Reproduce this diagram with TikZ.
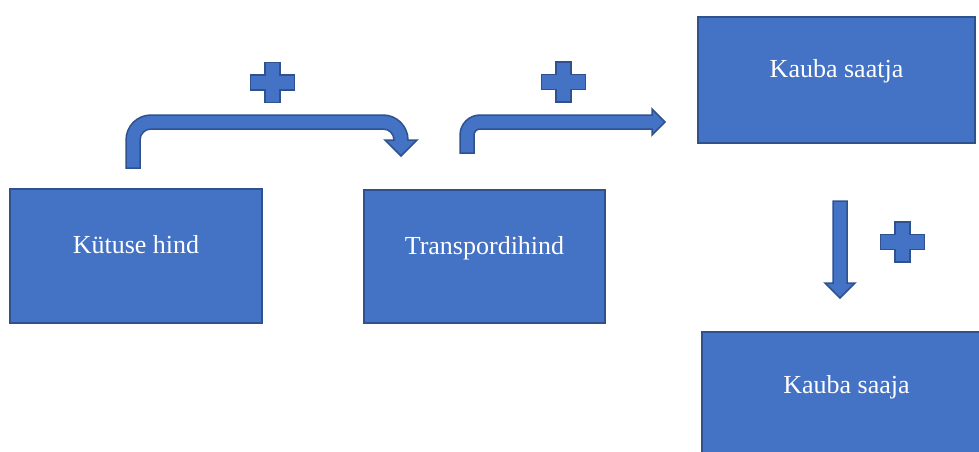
\documentclass[tikz,border=0pt]{standalone}
\usepackage{fontspec}
\setmainfont{Liberation Serif}
\definecolor{ofill}{HTML}{4472C4}
\definecolor{oline}{HTML}{2F528F}
\begin{document}
\begin{tikzpicture}[x=1pt,y=-1pt,
  blockbox/.style={draw=oline, fill=ofill, line width=1.5pt, text=white,
    font=\fontsize{26}{31}\selectfont, inner sep=0pt, text height=18pt, text depth=23pt},
  blockarrow/.style={draw=oline, fill=ofill, line width=1.5pt, line join=miter},
  plussign/.pic={\path[blockarrow] (-7.5,-20) -- (7.5,-20) -- (7.5,-7.5) -- (22,-7.5) -- (22,7.5) -- (7.5,7.5) -- (7.5,20) -- (-7.5,20) -- (-7.5,7.5) -- (-22,7.5) -- (-22,-7.5) -- (-7.5,-7.5) -- cycle;}
]
\useasboundingbox (0,0) rectangle (979,452);
\fill[white] (0,0) rectangle (979,452);
\clip (0,0) rectangle (979,452);
% boxes
\node[blockbox, minimum width=252pt, minimum height=134pt] (kytus) at (136,256) {Kütuse hind};
\node[blockbox, minimum width=241pt, minimum height=133pt] (transp) at (484.5,256.5) {Transpordihind};
\node[blockbox, minimum width=277pt, minimum height=126pt] (saatja) at (836.5,80) {Kauba saatja};
\node[blockbox, minimum width=289pt, minimum height=127pt] (saaja) at (846.5,395.5) {Kauba saaja};
% bent arrow 1
\path[blockarrow] (126,168) -- (126,140) .. controls (126,126.2) and (137.2,115) .. (151,115)
  -- (383,115) .. controls (396.8,115) and (408,126.2) .. (408,140)
  -- (417,140) -- (401,156) -- (385,140) -- (394,140)
  .. controls (394,133.9) and (389.1,129) .. (383,129)
  -- (151,129) .. controls (144.9,129) and (140,133.9) .. (140,140)
  -- (140,168) -- cycle;
% bent arrow 2
\path[blockarrow] (460,153) -- (460,135) .. controls (460,124) and (469,115) .. (480,115)
  -- (652,115) -- (652,109) -- (665,122) -- (652,135) -- (652,129)
  -- (480,129) .. controls (476.7,129) and (474,131.7) .. (474,135)
  -- (474,153) -- cycle;
% down arrow
\path[blockarrow] (833,201) -- (847,201) -- (847,283) -- (855,283) -- (840,298) -- (825,283) -- (833,283) -- cycle;
% plus signs
\pic (plusa) at (272.5,82.5) {plussign};
\pic (plusb) at (563.5,82) {plussign};
\pic (plusc) at (902.5,242) {plussign};
\end{tikzpicture}
\end{document}
